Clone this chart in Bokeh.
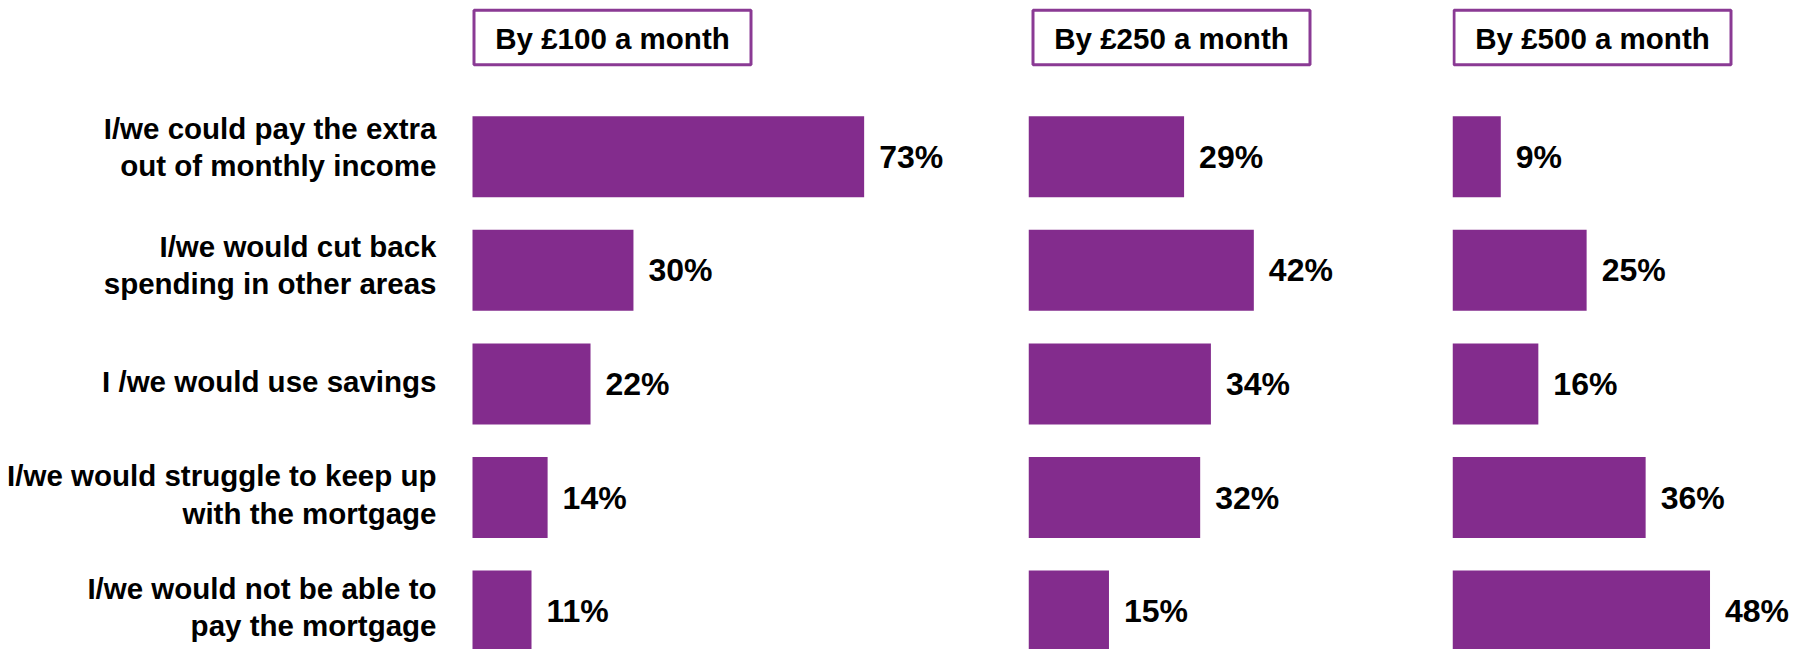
from bokeh.plotting import figure
from bokeh.layouts import row
from bokeh.models import Range1d, ColumnDataSource
from bokeh.core.properties import value
from bokeh.embed import file_html
from bokeh.resources import INLINE

# ---------------- data ----------------
categories = [
    "I/we could pay the extra\nout of monthly income",
    "I/we would cut back\nspending in other areas",
    "I /we would use savings",
    "I/we would struggle to keep up\nwith the mortgage",
    "I/we would not be able to\npay the mortgage",
]
headers = ["By £100 a month", "By £250 a month", "By £500 a month"]
by_100 = [73, 30, 22, 14, 11]
by_250 = [29, 42, 34, 32, 15]
by_500 = [9, 25, 16, 36, 48]
series = [by_100, by_250, by_500]

# ---------------- styling / layout ----------------
PURPLE = "#832C8D"
FONT = value("Liberation Sans")
H = 649
PX_X = 5.365          # pixels per percentage point
PX_Y = 113.6          # pixels per category row
Y_TOP = -156.2 / PX_Y
Y_BOTTOM = Y_TOP + H / PX_Y
widths = [1028, 424, 347]
label_space = [472, 0, 0]   # room left of the bars for category labels (px)
label_nudge = [-10, -5, -2, -3, -4]  # vertical nudge of category labels (px)
box_offsets = [0, 3, 0]     # header box offset from bar start (px)
BOX_W = 280
BOX_TOP, BOX_BOT = 8.3, 65.7  # px from top of figure

def py(px):
    return Y_TOP + px / PX_Y

figs = []
for k, (vals, head) in enumerate(zip(series, headers)):
    w, ls = widths[k], label_space[k]
    p = figure(width=w, height=H, output_backend="svg", toolbar_location=None,
               x_range=Range1d(-ls / PX_X, (w - ls) / PX_X),
               y_range=Range1d(Y_BOTTOM, Y_TOP),
               min_border_left=0, min_border_right=0,
               min_border_top=0, min_border_bottom=0,
               x_axis_location=None, y_axis_location=None)
    p.outline_line_color = None
    p.grid.visible = False
    p.background_fill_color = "white"
    p.border_fill_color = "white"

    src = ColumnDataSource(dict(
        idx=list(range(len(categories))),
        cat=categories,
        nudge=label_nudge,
        v=vals,
        lab=[f"{v}%" for v in vals],
    ))
    p.hbar(y="idx", left=0, right="v", height=0.713, source=src,
           fill_color=PURPLE, line_color=None)
    p.text(x="v", y="idx", text="lab", source=src, x_offset=15,
           text_baseline="middle", text_align="left",
           text_font=FONT, text_font_style="bold", text_font_size="32px",
           text_color="black")

    if k == 0:
        p.text(x=0, y="idx", text="cat", source=src, x_offset=-36, y_offset="nudge",
               text_baseline="middle", text_align="right",
               text_line_height=1.13,
               text_font=FONT, text_font_style="bold", text_font_size="29.5px",
               text_color="black")

    # header box
    off = box_offsets[k]
    p.quad(left=[(off + 1.5) / PX_X], right=[(off + BOX_W - 1.5) / PX_X],
           top=[py(BOX_TOP + 1.5)], bottom=[py(BOX_BOT - 1.5)],
           fill_color="white", line_color="#8A3A94", line_width=3)
    p.text(x=[(off + BOX_W / 2) / PX_X], y=[py(38)], text=[head],
           text_align="center", text_baseline="middle",
           text_font=FONT, text_font_style="bold", text_font_size="29.5px",
           text_color="black")
    figs.append(p)

layout = row(*figs)
open("out.html", "w").write(file_html(layout, INLINE))
